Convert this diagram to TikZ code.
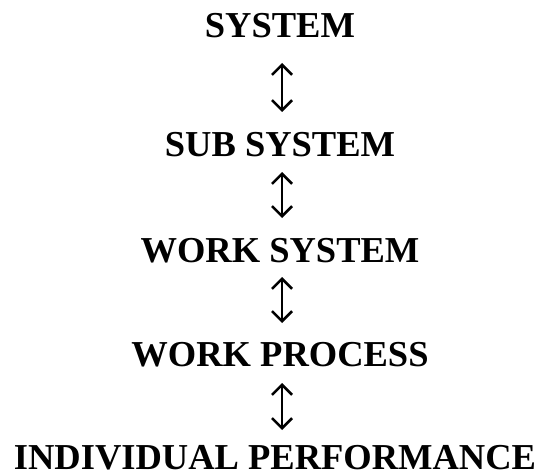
\documentclass[tikz,border=0pt]{standalone}
\usepackage{fontspec}
\setmainfont{Liberation Serif}
\usetikzlibrary{arrows.meta}
\begin{document}
\begin{tikzpicture}[x=1pt,y=1pt,
  lbl/.style={anchor=base,inner sep=0pt,font=\fontsize{36.5}{40}\selectfont\bfseries},
  link/.style={line width=2.6pt,{Straight Barb[length=10pt,width=20pt,line width=2.6pt]}-{Straight Barb[length=10pt,width=20pt,line width=2.6pt]}}]
\useasboundingbox (0,0) rectangle (546,-476);
\node[lbl] (s1) at (280,-38) {SYSTEM};
\node[lbl] (s2) at (280,-157) {SUB SYSTEM};
\node[lbl] (s3) at (280,-262) {WORK SYSTEM};
\node[lbl] (s4) at (280,-366) {WORK PROCESS};
\node[lbl] (s5) at (275,-469) {INDIVIDUAL PERFORMANCE};
\coordinate (a1t) at (282,-63); \coordinate (a1b) at (282,-112);
\coordinate (a2t) at (282,-172); \coordinate (a2b) at (282,-218);
\coordinate (a3t) at (282,-277); \coordinate (a3b) at (282,-323);
\coordinate (a4t) at (282,-383); \coordinate (a4b) at (282,-430);
\draw[link] (a1t) -- (a1b);
\draw[link] (a2t) -- (a2b);
\draw[link] (a3t) -- (a3b);
\draw[link] (a4t) -- (a4b);
\end{tikzpicture}
\end{document}
